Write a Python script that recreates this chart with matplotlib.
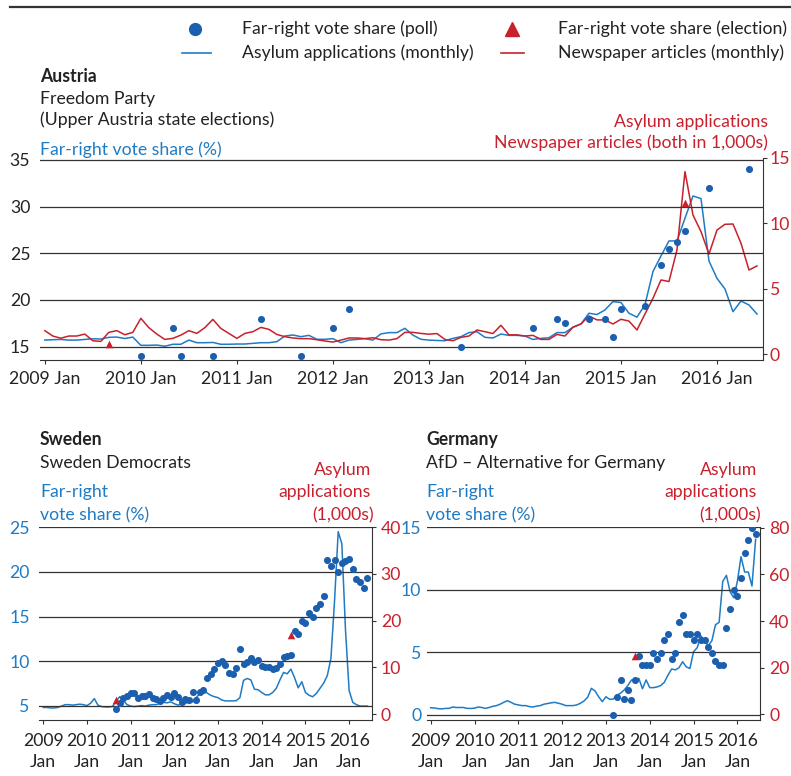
import matplotlib
matplotlib.use("Agg")
import matplotlib.pyplot as plt
from matplotlib.lines import Line2D

plt.rcParams['font.family'] = ['Lato', 'DejaVu Sans']
plt.rcParams['font.size'] = 12.7

BLUE = '#1f7bc4'
DOT = '#1b5fae'
RED = '#c8202c'
INK = '#222222'
GRID = '#333333'
FS = 12.7

W, H = 791, 776

# all monthly series start in 2009 Jan; values in 1,000s
years = ['2009', '2010', '2011', '2012', '2013', '2014', '2015', '2016']

austria_asylum = [
    1.1, 1.13, 1.15, 1.1, 1.1, 1.15, 1.2, 1.18, 1.31, 1.33, 1.22, 1.33,
    0.7, 0.7, 0.72, 0.63, 0.78, 0.78, 1.1, 0.9, 0.9, 0.92, 0.78, 0.78,
    0.8, 0.8, 0.85, 0.9, 0.9, 0.98, 1.41, 1.49, 1.36, 1.46, 1.16, 1.16,
    1.21, 0.9, 1.1, 1.15, 1.21, 1.1, 1.57, 1.67, 1.67, 2.0, 1.48, 1.16,
    1.1, 1.07, 1.05, 1.23, 1.36, 1.67, 1.74, 1.31, 1.26, 1.56, 1.46, 1.46,
    1.41, 1.15, 1.23, 1.28, 1.67, 1.67, 2.08, 2.33, 3.15, 3.05, 3.4, 4.04,
    3.97, 3.15, 2.85, 3.8, 6.33, 7.52, 8.67, 8.67, 10.4, 12.1, 11.9, 7.14,
    5.81, 5.0, 3.27, 4.08, 3.78, 3.09]
austria_news = [
    1.82, 1.41, 1.24, 1.41, 1.41, 1.56, 1.05, 1.0, 1.69, 1.82, 1.51, 1.69,
    2.76, 2.05, 1.56, 1.15, 1.23, 1.48, 1.82, 1.61, 2.05, 2.68, 1.99, 1.61,
    1.23, 1.61, 1.74, 2.07, 1.92, 1.53, 1.36, 1.26, 1.21, 1.21, 1.13, 1.03,
    0.95, 1.1, 1.26, 1.26, 1.21, 1.28, 1.13, 1.1, 1.21, 1.69, 1.69, 1.61,
    1.55, 1.6, 1.15, 1.05, 1.31, 1.41, 1.87, 1.74, 1.6, 2.23, 1.5, 1.5,
    1.41, 1.46, 1.15, 1.15, 1.53, 1.41, 2.08, 2.33, 2.94, 2.64, 2.64, 2.33,
    2.69, 2.55, 1.87, 3.09, 4.29, 5.69, 5.57, 7.98, 13.96, 10.65, 9.38, 7.67,
    9.5, 9.94, 9.96, 8.49, 6.45, 6.76]
austria_poll_month = ['2010-01', '2010-05', '2010-06', '2010-10', '2011-04', '2011-09',
                      '2012-01', '2012-03', '2013-05', '2014-02', '2014-05', '2014-06',
                      '2014-09', '2014-11', '2014-12', '2015-01', '2015-04', '2015-06',
                      '2015-07', '2015-08', '2015-09', '2015-12', '2016-05']
austria_poll = [14, 17, 14, 14, 18, 14, 17, 19, 15, 17, 18, 17.5,
                18, 18, 16, 19, 19.3, 23.7, 25.5, 26.2, 27.4, 32, 34]
austria_elec_month = ['2009-09', '2015-09']
austria_elec = [15.3, 30.4]

sweden_asylum = [
    1.4, 1.4, 1.3, 1.3, 1.4, 1.7, 2.0, 2.0, 1.9, 2.0, 2.1, 2.0,
    1.8, 2.3, 3.3, 1.9, 1.6, 1.5, 1.5, 1.6, 2.8, 3.7, 2.9, 2.0,
    1.7, 1.6, 1.7, 1.8, 1.7, 1.9, 2.0, 2.0, 2.3, 2.5, 2.4, 2.6,
    2.2, 1.9, 2.1, 2.3, 2.5, 2.6, 3.5, 4.4, 4.9, 4.5, 4.0, 3.7,
    3.5, 3.0, 2.8, 2.8, 2.8, 2.85, 3.5, 7.2, 7.6, 7.3, 5.3, 5.2,
    4.6, 4.1, 4.1, 4.6, 5.5, 7.3, 8.9, 8.6, 9.6, 7.8, 5.6, 6.9,
    4.6, 4.0, 3.7, 4.4, 5.5, 6.6, 8.2, 11.9, 24.3, 39.0, 36.4, 18.0,
    5.0, 2.5, 2.0, 1.7, 1.7, 1.7]
sweden_poll_start = '2010-09'
sweden_poll = [
    4.63, 5.3, 5.86, 6.12, 6.42, 6.45, 5.93, 6.16, 6.16, 6.3, 5.86, 5.82,
    5.56, 5.9, 6.23, 6.05, 6.45, 5.97, 5.41, 5.78, 5.63, 6.6, 5.67, 6.6,
    6.82, 8.09, 8.54, 9.14, 9.77, 10.07, 9.58, 8.73, 8.54, 9.21, 11.34, 9.66,
    9.88, 10.33, 9.88, 10.1, 9.47, 9.36, 9.4, 9.1, 9.25, 9.7, 10.5, 10.56,
    10.71, 13.43, 13.02, 14.51, 14.25, 15.37, 15.0, 16.0, 16.38, 17.35, 21.34, 20.7,
    21.34, 19.96, 20.97, 21.23, 21.45, 20.33, 19.18, 18.84, 18.25, 19.36]
sweden_elec_month = ['2010-09', '2014-09']
sweden_elec = [5.7, 12.9]

germany_asylum = [
    2.9, 2.8, 2.5, 2.4, 2.6, 2.6, 3.2, 3.0, 3.0, 3.0, 2.6, 2.6,
    2.7, 3.2, 3.0, 2.6, 3.0, 3.5, 3.8, 4.4, 5.2, 5.9, 5.2, 4.4,
    4.1, 3.8, 3.8, 3.4, 3.2, 3.6, 3.8, 4.4, 4.7, 5.0, 5.2, 4.8,
    4.4, 3.8, 3.8, 3.8, 4.1, 4.8, 5.8, 7.4, 11.2, 10.1, 7.6, 5.5,
    7.6, 6.5, 6.6, 8.3, 9.1, 10.5, 12.4, 14.8, 14.1, 15.5, 11.0, 14.8,
    11.5, 11.5, 11.8, 12.4, 13.8, 16.9, 19.5, 19.1, 20.0, 22.6, 20.4, 19.7,
    26.9, 28.6, 33.7, 31.5, 29.5, 31.5, 38.4, 39.5, 57.0, 59.6, 52.6, 50.0,
    57.0, 67.6, 61.0, 61.0, 55.0, 75.0]
germany_poll_start = '2013-03'
germany_poll = [
    0.0, 1.43, 2.76, 1.21, 1.95, 1.16, 2.76, 4.71, 3.96, 3.96, 3.96, 4.95,
    4.45, 4.95, 5.97, 6.47, 4.45, 4.95, 7.43, 7.97, 6.47, 6.47, 5.97, 6.47,
    5.97, 5.97, 5.42, 4.95, 4.31, 3.96, 3.96, 6.95, 8.45, 9.95, 9.47, 10.96,
    12.94, 13.99, 14.97, 14.46]
germany_elec_month = ['2013-09']
germany_elec = [4.7]


def month_index(s):
    y, m = s.split('-')
    return (int(y) - 2009) * 12 + int(m) - 1


def fx(px):
    return px / W


def fy(py):
    return 1 - py / H


def panel(box, xlim, ylim_l, ylim_r, lticks, rticks, lcolor, xlabels, lpad, rpad, xpad):
    x0, y0, x1, y1 = box
    ax = fig.add_axes([fx(x0), fy(y1), (x1 - x0) / W, (y1 - y0) / H])
    ax2 = ax.twinx()
    ax.set_zorder(ax2.get_zorder() + 1)
    ax.patch.set_visible(False)
    for a in (ax, ax2):
        a.set_xlim(*xlim)
        for s in ('top', 'left', 'right'):
            a.spines[s].set_visible(False)
        a.spines['bottom'].set_color(GRID)
    ax2.spines['right'].set_visible(True)
    ax2.spines['right'].set_color(GRID)
    ax2.spines['bottom'].set_visible(False)
    ax.set_ylim(*ylim_l)
    ax2.set_ylim(*ylim_r)
    ax.set_yticks(lticks)
    ax.tick_params(axis='y', length=0, pad=lpad, labelcolor=lcolor, labelsize=FS)
    ax2.set_yticks(rticks)
    ax2.tick_params(axis='y', length=3, width=0.8, color=GRID, pad=rpad,
                    labelcolor=RED, labelsize=FS)
    ax.grid(axis='y', color=GRID, lw=0.9)
    ax.set_xticks([12 * i for i in range(len(years))])
    ax.set_xticklabels(xlabels, color=INK, linespacing=1.45)
    ax.tick_params(axis='x', length=3, width=0.8, color=GRID, pad=xpad, labelsize=FS)
    return ax, ax2


def draw(ax, ax2, asylum, news, poll_x, poll_y, elec_x, elec_y):
    ax2.plot(range(len(asylum)), asylum, color=BLUE, lw=1.1)
    if news is not None:
        ax2.plot(range(len(news)), news, color=RED, lw=1.1)
    ax.scatter(poll_x, poll_y, s=26, color=DOT, zorder=3, linewidths=0)
    ax.scatter(elec_x, elec_y, s=30, marker='^', color=RED, zorder=4, linewidths=0)


fig = plt.figure(figsize=(W / 100, H / 100), dpi=100)

# top rule
fig.add_artist(Line2D([fx(10), 1], [fy(7), fy(7)], color='#333333', lw=1.6))

# legend
fig.add_artist(Line2D([fx(195)], [fy(29)], marker='o', ms=8.5, color=DOT, lw=0))
fig.add_artist(Line2D([fx(512)], [fy(29)], marker='^', ms=9.5, color=RED, lw=0))
fig.add_artist(Line2D([fx(182), fx(211)], [fy(53), fy(53)], color=BLUE, lw=1.2))
fig.add_artist(Line2D([fx(501), fx(524)], [fy(53), fy(53)], color=RED, lw=1.2))
leg_kw = dict(ha='left', va='center', color=INK)
fig.text(fx(242), fy(29), 'Far-right vote share (poll)', **leg_kw)
fig.text(fx(558), fy(29), 'Far-right vote share (election)', **leg_kw)
fig.text(fx(242), fy(53), 'Asylum applications (monthly)', **leg_kw)
fig.text(fx(558), fy(53), 'Newspaper articles (monthly)', **leg_kw)

# Austria
ax, ax2 = panel((40, 158, 763, 360), (-0.6, 89.75), (13.57, 35.2), (-0.42, 15.0),
                [15, 20, 25, 30, 35], [0, 5, 10, 15], INK,
                [y + ' Jan' for y in years], 7, 2, 5)
draw(ax, ax2, austria_asylum, austria_news,
     [month_index(m) for m in austria_poll_month], austria_poll,
     [month_index(m) for m in austria_elec_month], austria_elec)
fig.text(fx(40), fy(82), 'Austria', fontweight='bold', color=INK, va='baseline')
fig.text(fx(40), fy(104), 'Freedom Party', color=INK, va='baseline')
fig.text(fx(40), fy(125), '(Upper Austria state elections)', color=INK, va='baseline')
fig.text(fx(40), fy(155), 'Far-right vote share (%)', color=BLUE, va='baseline')
fig.text(fx(768), fy(127), 'Asylum applications', color=RED, va='baseline', ha='right')
fig.text(fx(768), fy(148), 'Newspaper articles (both in 1,000s)', color=RED,
         va='baseline', ha='right')

two_line = [y + '\nJan' for y in years]

# Sweden
ax, ax2 = panel((39.3, 527, 371.7, 720), (-1.1, 90.2), (3.43, 25.02), (-1.28, 40.0),
                [5, 10, 15, 20, 25], [0, 10, 20, 30, 40], BLUE, two_line, 7, 3.5, 6)
s0 = month_index(sweden_poll_start)
draw(ax, ax2, sweden_asylum, None,
     range(s0, s0 + len(sweden_poll)), sweden_poll,
     [month_index(m) for m in sweden_elec_month], sweden_elec)
fig.text(fx(40), fy(445), 'Sweden', fontweight='bold', color=INK, va='baseline')
fig.text(fx(40), fy(468), 'Sweden Democrats', color=INK, va='baseline')
fig.text(fx(40), fy(497), 'Far-right', color=BLUE, va='baseline')
fig.text(fx(40), fy(520), 'vote share (%)', color=BLUE, va='baseline')
fig.text(fx(371), fy(475), 'Asylum', color=RED, va='baseline', ha='right')
fig.text(fx(371), fy(497), 'applications', color=RED, va='baseline', ha='right')
fig.text(fx(374), fy(520), '(1,000s)', color=RED, va='baseline', ha='right')

# Germany
ax, ax2 = panel((426.7, 527, 760, 720), (-1.1, 90.2), (-0.44, 15.04), (-2.36, 80.3),
                [0, 5, 10, 15], [0, 20, 40, 60, 80], BLUE, two_line, 4, 3.5, 6)
g0 = month_index(germany_poll_start)
draw(ax, ax2, germany_asylum, None,
     range(g0, g0 + len(germany_poll)), germany_poll,
     [month_index(m) for m in germany_elec_month], germany_elec)
fig.text(fx(426), fy(445), 'Germany', fontweight='bold', color=INK, va='baseline')
fig.text(fx(426), fy(468), 'AfD \u2013 Alternative for Germany', color=INK, va='baseline')
fig.text(fx(426), fy(497), 'Far-right', color=BLUE, va='baseline')
fig.text(fx(426), fy(520), 'vote share (%)', color=BLUE, va='baseline')
fig.text(fx(757), fy(475), 'Asylum', color=RED, va='baseline', ha='right')
fig.text(fx(757), fy(497), 'applications', color=RED, va='baseline', ha='right')
fig.text(fx(761), fy(520), '(1,000s)', color=RED, va='baseline', ha='right')

fig.savefig('out.png', dpi=100)
